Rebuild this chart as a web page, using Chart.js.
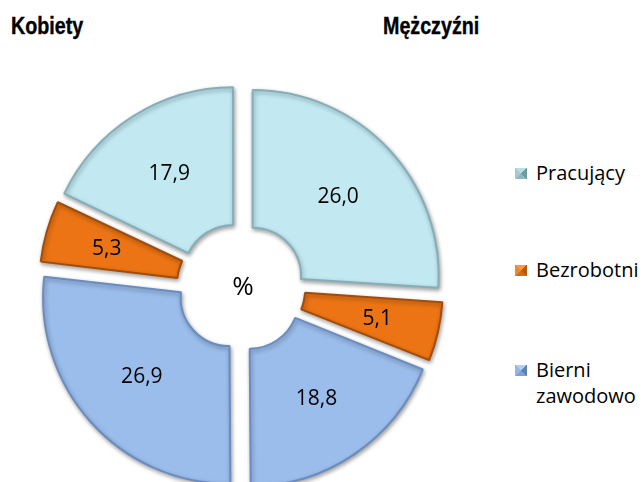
<!DOCTYPE html>
<html>
<head>
<meta charset="utf-8">
<script src="https://cdn.jsdelivr.net/npm/chart.js@4"></script>
<style>
  html, body { margin: 0; padding: 0; background: #fff; overflow: hidden; }
  body { width: 642px; height: 482px; position: relative; }
  #wrap { position: absolute; left: 11px; top: 57px; width: 460px; height: 460px; }
  .title { position: absolute; top: 12px; font-family: "Liberation Sans", Arial, sans-serif;
           font-weight: bold; font-size: 24px; color: #000; transform: scaleX(0.82); transform-origin: left top;
           -webkit-text-stroke: 0.4px #000; }
  .leg { position: absolute; left: 515px; font-family: "Open Sans", sans-serif; font-size: 20px;
         line-height: 26px; color: #000; }
  .leg i { position: absolute; left: 0; top: 8px; width: 12px; height: 11px; }
  .leg span { display: block; margin-left: 21px; }
</style>
</head>
<body>
<div class="title" style="left:11px">Kobiety</div>
<div class="title" style="left:383px">Mężczyźni</div>
<div id="legend"></div>
<div id="wrap"><canvas id="myChart" width="460" height="460"></canvas></div>
<script>
  const categories = ['Pracujący', 'Bezrobotni', 'Bierni zawodowo'];
  const kobiety = [17.9, 5.3, 26.9];
  const mezczyzni = [26.0, 5.1, 18.8];
  const colors = ['#c2e9f2', '#ec7414', '#9bbdeb'];
  const borders = ['#86aeb8', '#a24c08', '#6a8cc0'];
  const markers = [
    ['#b9dde4', '#6f9aa3', '#8fb7bf', '#a3c9d1'],
    ['#f59a45', '#b85a0c', '#d9690e', '#e88a35'],
    ['#b3cdf0', '#5e82b5', '#7fa0d0', '#97b6e3']
  ];

  // men clockwise from the top, then women continuing round
  const values = mezczyzni.concat(kobiety.slice().reverse());
  const segColors = colors.concat(colors.slice().reverse());
  const segBorders = borders.concat(borders.slice().reverse());
  const total = values.reduce((a, b) => a + b, 0);
  const explode = 16;
  const offsets = values.map(v => {
    let ang = v / total * Math.PI * 2;
    let fix = 1 - Math.sin(Math.min(Math.PI, ang));
    return 4 * explode / (1 + fix);
  });

  // legend
  const legTops = [160, 257, 357];
  let legHtml = '';
  categories.forEach((c, i) => {
    const m = markers[i];
    const bg = `conic-gradient(from -45deg, ${m[0]} 0 90deg, ${m[1]} 90deg 180deg, ${m[2]} 180deg 270deg, ${m[3]} 270deg 360deg)`;
    const txt = c.replace(' ', '<br>');
    legHtml += `<div class="leg" style="top:${legTops[i]}px"><i style="background:${bg}"></i><span>${txt}</span></div>`;
  });
  document.getElementById('legend').innerHTML = legHtml;

  const shade = {
    id: 'shade',
    beforeDatasetsDraw(chart) {
      const ctx = chart.ctx;
      ctx.save();
      ctx.shadowColor = 'rgba(0,0,0,0.35)';
      ctx.shadowBlur = 4;
      ctx.shadowOffsetX = 1;
      ctx.shadowOffsetY = 2;
    },
    afterDatasetsDraw(chart) {
      chart.ctx.restore();
      const ctx = chart.ctx;
      const meta = chart.getDatasetMeta(0);
      ctx.save();
      ctx.fillStyle = '#000';
      ctx.textAlign = 'center';
      ctx.textBaseline = 'middle';
      ctx.font = '21px "Open Sans", sans-serif';
      meta.data.forEach((arc, i) => {
        const p = arc.getProps(['x', 'y', 'startAngle', 'endAngle', 'innerRadius', 'outerRadius']);
        const mid = (p.startAngle + p.endAngle) / 2;
        const o = offsets[i] / 4;
        const fix = 1 - Math.sin(Math.min(Math.PI, p.endAngle - p.startAngle));
        const d = o * (1 + fix) + (p.innerRadius + p.outerRadius) / 2 + o * fix;
        ctx.fillText(values[i].toFixed(1).replace('.', ','), p.x + Math.cos(mid) * d, p.y + Math.sin(mid) * d + 1);
      });
      const c = meta.data[0];
      ctx.font = '26px "Open Sans", sans-serif';
      ctx.fillText('%', c.x + 2, c.y + 1);
      ctx.restore();
    }
  };

  new Chart(document.getElementById('myChart'), {
    type: 'doughnut',
    data: {
      labels: categories.concat(categories.slice().reverse()),
      datasets: [{
        data: values,
        backgroundColor: segColors,
        borderColor: segBorders,
        borderWidth: 2,
        offset: offsets
      }]
    },
    options: {
      responsive: false,
      animation: false,
      events: [],
      radius: 186,
      cutout: '26%',
      rotation: 0,
      layout: { padding: 0 },
      plugins: { legend: { display: false }, tooltip: { enabled: false } }
    },
    plugins: [shade]
  });
</script>
</body>
</html>
